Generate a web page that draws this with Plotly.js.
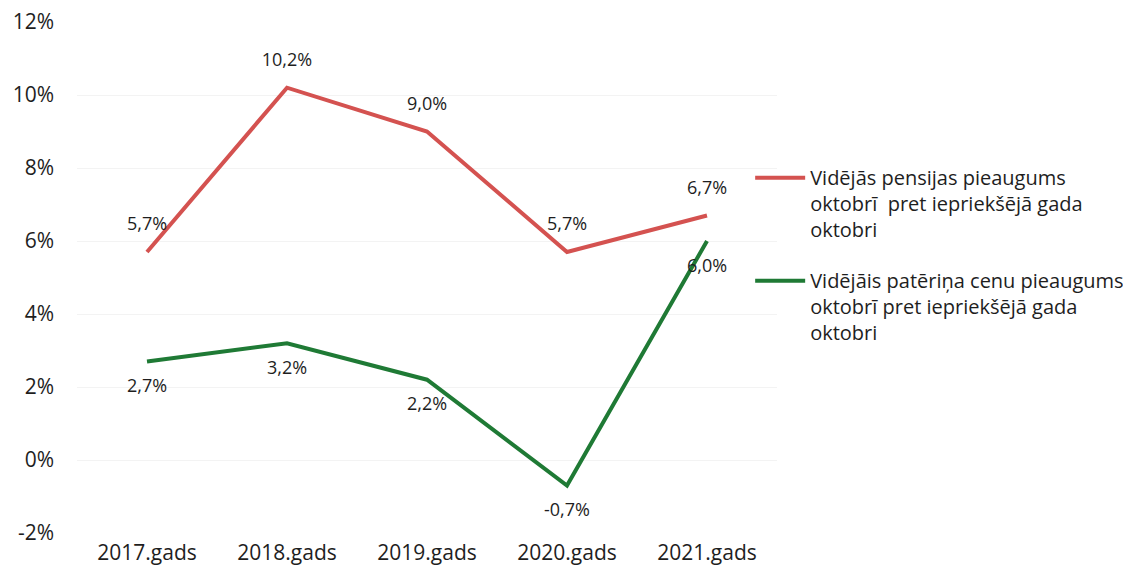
<!DOCTYPE html>
<html><head><meta charset="utf-8">
<script src="https://cdn.plot.ly/plotly-3.0.1.min.js"></script>
<style>html,body{margin:0;padding:0;background:#fff}#chart{width:1123px;height:575px}</style>
</head><body><div id="chart"></div>
<script>
const categories = ["2017.gads", "2018.gads", "2019.gads", "2020.gads", "2021.gads"];
const pensionGrowth = [5.7, 10.2, 9.0, 5.7, 6.7];
const priceGrowth = [2.7, 3.2, 2.2, -0.7, 6.0];
const seriesNames = [
  "Vidējās pensijas pieaugums<br>oktobrī  pret iepriekšējā gada<br>oktobri",
  "Vidējāis patēriņa cenu pieaugums<br>oktobrī pret iepriekšējā gada<br>oktobri"
];
const yTickVals = [-2, 0, 2, 4, 6, 8, 10, 12];
const yTickText = ["-2%", "0%", "2%", "4%", "6%", "8%", "10%", "12%"];

const fmt = v => v.toFixed(1).replace(".", ",") + "%";
const fam = "Open Sans, Noto Sans, sans-serif";
const tickFont = {family: fam, size: 21, color: "#1e1e1e"};
const labelFont = {family: fam, size: 18, color: "#1e1e1e"};
const legendFont = {family: fam, size: 20, color: "#1e1e1e"};

const traces = [
  {x: categories, y: pensionGrowth, name: seriesNames[0], legendgroup: "a", type: "scatter",
   mode: "lines+markers+text",
   marker: {size: 26, color: "rgba(0,0,0,0)"},
   line: {color: "#d45250", width: 4}, text: pensionGrowth.map(fmt),
   textposition: "top center",
   textfont: labelFont, cliponaxis: false, hoverinfo: "skip"},
  {x: categories, y: priceGrowth, name: seriesNames[1], legendgroup: "b", type: "scatter",
   mode: "lines+markers+text",
   marker: {size: 26, color: "rgba(0,0,0,0)"},
   line: {color: "#1f7a35", width: 4}, text: priceGrowth.map(fmt),
   textposition: "bottom center",
   textfont: labelFont, cliponaxis: false, hoverinfo: "skip"}
];

const layout = {
  width: 1123, height: 575,
  margin: {l: 77, r: 346, t: 22, b: 42, autoexpand: false},
  paper_bgcolor: "#fff", plot_bgcolor: "#fff",
  font: tickFont,
  showlegend: true,
  legend: {xref: "container", yref: "container", x: 0.668, y: 0.725,
           xanchor: "left", yanchor: "top", font: legendFont,
           bgcolor: "rgba(0,0,0,0)", tracegroupgap: 22, valign: "top", itemwidth: 50,
           traceorder: "grouped"},
  xaxis: {type: "category", range: [-0.5, 4.5], showgrid: false, zeroline: false,
          showline: false, ticks: "", tickfont: tickFont, ticklabelstandoff: 5},
  yaxis: {range: [-2, 12], tickvals: yTickVals, ticktext: yTickText, showgrid: true,
          gridcolor: "#f3f3f3", gridwidth: 1, zeroline: false, showline: false,
          tickfont: tickFont, ticklabelstandoff: 22}
};

Plotly.newPlot("chart", traces, layout, {displayModeBar: false, staticPlot: true});
</script></body></html>
